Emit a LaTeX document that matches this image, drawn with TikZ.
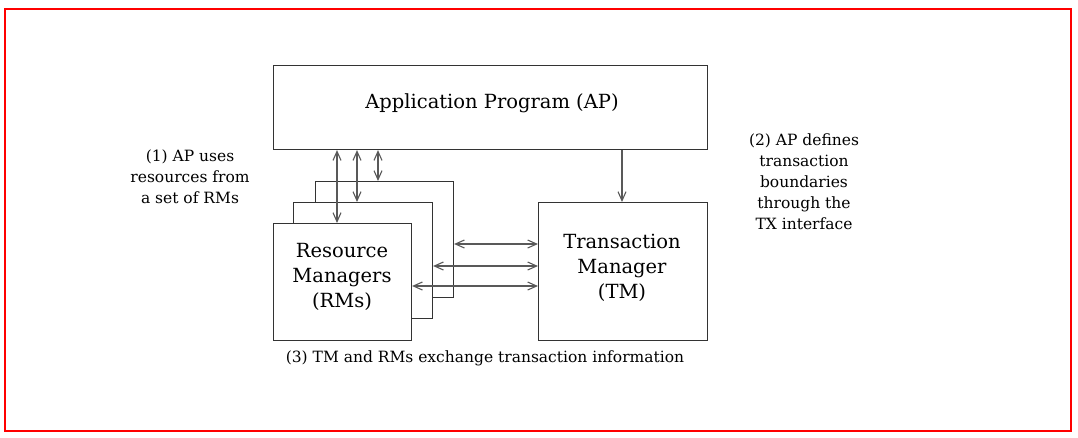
\documentclass[tikz,border=0pt]{standalone}
\usepackage{fontspec}
\setmainfont{DejaVu Serif}
\usetikzlibrary{arrows.meta}
\tikzset{
  box/.style={draw=black!80, line width=1.1pt, fill=white, anchor=north west, inner sep=0pt, align=center},
  boxtext/.style={font=\fontsize{19.5}{25}\selectfont, align=center, inner sep=0pt},
  arr/.style={draw=black!65, line width=1.1pt, -{Straight Barb[length=9pt,width=8pt]}},
  darr/.style={draw=black!65, line width=1.1pt, {Straight Barb[length=9pt,width=8pt]}-{Straight Barb[length=9pt,width=8pt]}},
  note/.style={align=center, font=\fontsize{15.5}{21}\selectfont, inner sep=0pt}
}
\begin{document}
\begin{tikzpicture}[x=1pt,y=-1pt]
\useasboundingbox (0,0) rectangle (1078,437);
\draw[red, line width=2pt] (5,9) rectangle (1071,431);
\node[box, minimum width=434pt, minimum height=84pt] (ap) at (273,65) {};
\node[boxtext] (aptext) at (492,103) {Application Program (AP)};
\node[box, minimum width=169pt, minimum height=138pt] (tm) at (538,202) {};
\node[boxtext] (tmtext) at (622,268) {Transaction\\Manager\\(TM)};
\node[box, minimum width=138pt, minimum height=116pt] (rm3) at (315,181) {};
\node[box, minimum width=139pt, minimum height=116pt] (rm2) at (293,202) {};
\node[box, minimum width=138pt, minimum height=117pt] (rm1) at (273,223) {};
\node[boxtext] (rmtext) at (342,277) {Resource\\Managers\\(RMs)};
\coordinate (v1) at (337,0);
\coordinate (v2) at (357,0);
\coordinate (v3) at (378,0);
\coordinate (v4) at (622,0);
\coordinate (h1) at (0,244);
\coordinate (h2) at (0,266);
\coordinate (h3) at (0,286);
\draw[darr] (ap.south -| v1) -- (rm1.north -| v1);
\draw[darr] (ap.south -| v2) -- (rm2.north -| v2);
\draw[darr] (ap.south -| v3) -- (rm3.north -| v3);
\draw[arr] (ap.south -| v4) -- (tm.north -| v4);
\draw[darr] (rm3.east |- h1) -- (tm.west |- h1);
\draw[darr] (rm2.east |- h2) -- (tm.west |- h2);
\draw[darr] (rm1.east |- h3) -- (tm.west |- h3);
\node[note] (n1) at (190,177) {(1) AP uses\\resources from\\a set of RMs};
\node[note] (n2) at (804,182) {(2) AP defines\\transaction\\boundaries\\through the\\TX interface};
\node[note] (n3) at (485,358) {(3) TM and RMs exchange transaction information};
\end{tikzpicture}
\end{document}
